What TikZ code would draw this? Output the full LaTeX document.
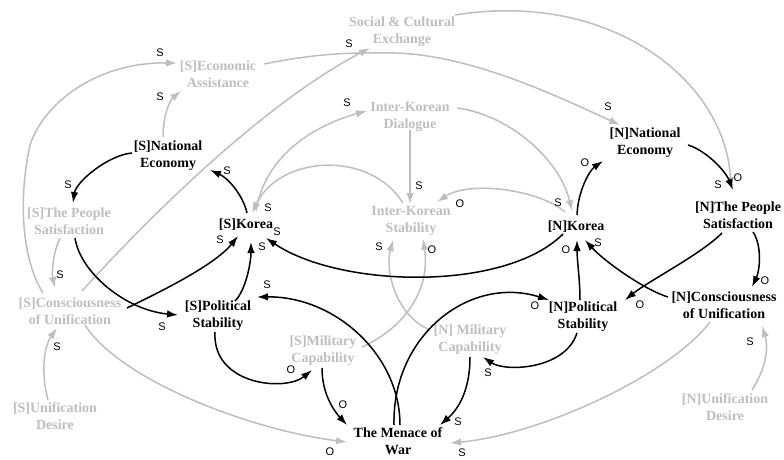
\documentclass[tikz,border=0pt]{standalone}
\usepackage{fontspec}
\setmainfont{Liberation Serif}
\newfontfamily\labfont{Liberation Sans}
\usetikzlibrary{arrows.meta,calc}
\definecolor{lg}{RGB}{190,190,190}
\begin{document}
\begin{tikzpicture}[x=1pt,y=-1pt,
  var/.style={font=\bfseries\fontsize{14}{17}\selectfont, align=center, inner sep=0pt},
  blk/.style={var, text=black},
  gry/.style={var, text=lg},
  lab/.style={font=\labfont\fontsize{11}{11}\selectfont, inner sep=0pt},
  bl/.style={draw=black, line width=1.5pt, -{Latex[length=11pt,width=7.5pt]}},
  gl/.style={draw=lg, line width=1.5pt, -{Latex[length=11pt,width=7.5pt]}},
]
\useasboundingbox (0,0) rectangle (784,460);

% variables
\node[gry] (SCE) at (402,32) {Social \& Cultural\\Exchange};
\node[gry] (SEA) at (218,74) {[S]Economic\\Assistance};
\node[gry] (IKD) at (410,117) {Inter-Korean\\Dialogue};
\node[blk] (SNE) at (168,156) {[S]National\\Economy};
\node[blk] (NNE) at (645,143) {[N]National\\Economy};
\node[gry] (SPS) at (69,221) {[S]The People\\Satisfaction};
\node[gry] (IKS) at (411,221) {Inter-Korean\\Stability};
\node[blk] (SK) at (246,225) {[S]Korea};
\node[blk] (NK) at (576,227) {[N]Korea};
\node[blk] (NPS) at (738,215) {[N]The People\\Satisfaction};
\node[gry] (SCU) at (70,311) {[S]Consciousness\\of Unification};
\node[blk] (SPol) at (218,316) {[S]Political\\Stability};
\node[blk] (NPol) at (583,317) {[N]Political\\Stability};
\node[blk] (NCU) at (724,305) {[N]Consciousness\\of Unification};
\node[gry] (SMC) at (323,351) {[S]Military\\Capability};
\node[gry] (NMC) at (470,340) {[N] Military\\Capability};
\node[blk] (MW) at (398,441) {The Menace of\\War};
\node[gry] (SUD) at (55,416) {[S]Unification\\Desire};
\node[gry] (NUD) at (725,407) {[N]Unification\\Desire};

% gray links
\draw[gl] ($(SNE)+(-5,-19)$) .. controls (163,115) and (170,100) .. ($(SEA)+(-37,17)$);
\draw[gl] ($(SCU)+(-27,-18)$) .. controls (22,260) and (18,200) .. (30,145) .. controls (45,100) and (100,62) .. ($(SEA)+(-41,-11)$);
\draw[gl] ($(SCU)+(12,-20)$) .. controls (160,205) and (270,100) .. ($(SCE)+(-32,16)$);
\draw[gl] ($(SEA)+(46,-10)$) .. controls (310,55) and (340,52) .. (395,53) .. controls (470,55) and (555,95) .. ($(NNE)+(-25,-18)$);
\draw[gl] ($(SCE)+(53,-17)$) .. controls (610,-10) and (725,80) .. ($(NPS)+(-7,-27)$);
\draw[gl] ($(SK)+(10,-14)$) .. controls (265,155) and (315,125) .. ($(IKD)+(-43,-6)$);
\draw[gl] ($(IKS)+(-8,-18)$) .. controls (370,150) and (280,155) .. ($(SK)+(6,-12)$);
\draw[gl] ($(IKD)+(47,-9)$) .. controls (510,115) and (560,160) .. ($(NK)+(-4,-16)$);
\draw[gl] ($(NK)+(-11,-15)$) .. controls (540,190) and (470,180) .. ($(IKS)+(26,-19)$);
\draw[gl] ($(IKD)+(0,13)$) -- ($(IKS)+(-1,-17)$);
\draw[gl] ($(SMC)+(39,-4)$) .. controls (410,325) and (430,285) .. ($(IKS)+(12,18)$);
\draw[gl] ($(NMC)+(-40,-10)$) .. controls (395,315) and (385,270) .. ($(IKS)+(-18,19)$);
\draw[gl] ($(SCU)+(15,14)$) .. controls (120,380) and (250,430) .. ($(MW)+(-51,1)$);
\draw[gl] ($(NCU)+(-14,17)$) .. controls (670,375) and (540,435) .. ($(MW)+(52,2)$);
\draw[gl] ($(SUD)+(-7,-16)$) .. controls (40,370) and (45,345) .. ($(SCU)+(-13,17)$);
\draw[gl] ($(NUD)+(27,-17)$) .. controls (768,365) and (768,345) .. ($(NCU)+(38,21)$);
\draw[gl] ($(SPS)+(-9,17)$) .. controls (52,255) and (52,275) .. ($(SCU)+(-15,-23)$);

% black links
\draw[bl] ($(SNE)+(-36,-3)$) .. controls (108,155) and (76,182) .. ($(SPS)+(4,-18)$);
\draw[bl] ($(SPS)+(6,17)$) .. controls (80,272) and (125,310) .. ($(SPol)+(-40,-1)$);
\draw[bl] ($(SCU)+(57,-3)$) .. controls (160,292) and (215,265) .. ($(SK)+(-8,11)$);
\draw[bl] ($(SPol)+(17,-15)$) .. controls (246,290) and (251,262) .. ($(SK)+(5,17)$);
\draw[bl] ($(SK)+(1,-12)$) .. controls (243,195) and (228,178) .. ($(SNE)+(42,14)$);
\draw[bl] ($(NK)+(-13,7)$) .. controls (505,292) and (340,288) .. ($(SK)+(20,13)$);
\draw[bl] ($(MW)+(2,-16)$) .. controls (400,355) and (335,296) .. ($(SPol)+(39,-19)$);
\draw[bl] ($(MW)+(-4,-16)$) .. controls (392,335) and (470,275) .. ($(NPol)+(-34,-17)$);
\draw[bl] ($(SPol)+(-3,16)$) .. controls (212,385) and (285,392) .. ($(SMC)+(-11,19)$);
\draw[bl] ($(SMC)+(-1,17)$) .. controls (322,395) and (335,412) .. ($(MW)+(-51,-16)$);
\draw[bl] ($(NMC)+(0,17)$) .. controls (470,395) and (455,412) .. ($(MW)+(42,-16)$);
\draw[bl] ($(NPol)+(-6,16)$) .. controls (565,370) and (505,372) .. ($(NMC)+(13,17)$);
\draw[bl] ($(NPol)+(-3,-17)$) .. controls (580,280) and (577,260) .. ($(NK)+(1,13)$);
\draw[bl] ($(NCU)+(-56,-8)$) .. controls (645,290) and (605,262) .. ($(NK)+(9,13)$);
\draw[bl] ($(NPS)+(-16,18)$) .. controls (700,255) and (650,280) .. ($(NPol)+(42,-17)$);
\draw[bl] ($(NPS)+(15,17)$) .. controls (762,245) and (760,270) .. ($(NCU)+(28,-18)$);
\draw[bl] ($(NNE)+(43,2)$) .. controls (705,150) and (725,170) .. ($(NPS)+(-5,-25)$);
\draw[bl] ($(NK)+(1,-12)$) .. controls (578,190) and (590,170) .. ($(NNE)+(-42,18)$);

% polarity labels
\node[lab] (l1) at (160,53) {S};
\node[lab] (l2) at (160,97) {S};
\node[lab] (l3) at (349,44) {S};
\node[lab] (l4) at (347,103) {S};
\node[lab] (l5) at (608,107) {S};
\node[lab] (l6) at (68,185) {S};
\node[lab] (l7) at (227,171) {S};
\node[lab] (l8) at (268,208) {S};
\node[lab] (l9) at (419,186) {S};
\node[lab] (l10) at (460,204) {O};
\node[lab] (l11) at (585,163) {O};
\node[lab] (l12) at (558,203) {S};
\node[lab] (l13) at (718,185) {S};
\node[lab] (l14) at (738,178) {O};
\node[lab] (l15) at (220,240) {S};
\node[lab] (l16) at (277,232) {S};
\node[lab] (l17) at (262,247) {S};
\node[lab] (l18) at (60,275) {S};
\node[lab] (l19) at (379,247) {S};
\node[lab] (l20) at (432,250) {O};
\node[lab] (l21) at (267,285) {S};
\node[lab] (l22) at (566,250) {O};
\node[lab] (l23) at (598,243) {S};
\node[lab] (l24) at (535,306) {O};
\node[lab] (l25) at (640,305) {O};
\node[lab] (l26) at (765,281) {O};
\node[lab] (l27) at (162,327) {S};
\node[lab] (l28) at (57,347) {S};
\node[lab] (l29) at (750,342) {S};
\node[lab] (l30) at (291,370) {O};
\node[lab] (l31) at (343,405) {O};
\node[lab] (l32) at (488,373) {S};
\node[lab] (l33) at (458,422) {S};
\node[lab] (l34) at (330,452) {O};
\node[lab] (l35) at (462,453) {S};
\end{tikzpicture}
\end{document}
